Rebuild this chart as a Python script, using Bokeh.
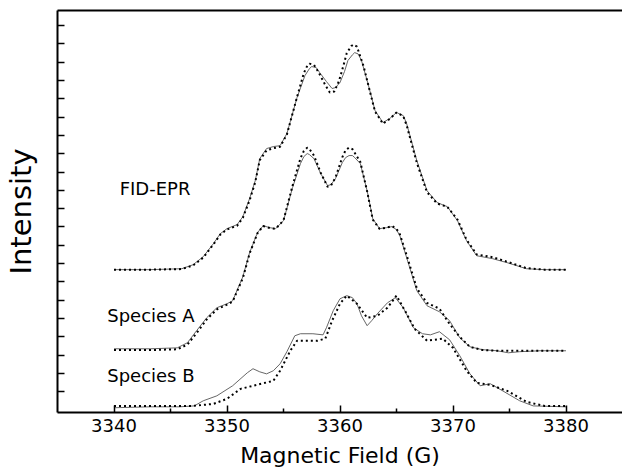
from bokeh.plotting import figure
from bokeh.models import Range1d, FixedTicker, LinearAxis, Label
from bokeh.embed import file_html
from bokeh.resources import INLINE

# ---------------- data (Magnetic field in G, intensity in arbitrary offset units) -------------
fid_x = [3340.0, 3343.2, 3346.0, 3347.0, 3347.9, 3348.8, 3349.4, 3350.0, 3350.9, 3351.4, 3352.0,
         3352.5, 3352.9, 3353.5, 3354.1, 3354.7, 3355.3, 3356.2, 3356.9, 3357.3, 3357.5, 3357.9,
         3358.2, 3358.8, 3359.3, 3359.6, 3360.0, 3360.4, 3360.7, 3361.1, 3361.3, 3361.6, 3361.9,
         3362.1, 3362.4, 3363.1, 3363.8, 3364.4, 3365.0, 3365.6, 3365.9, 3366.8, 3367.7, 3368.6,
         3369.5, 3370.4, 3371.2, 3372.1, 3373.5, 3374.8, 3376.5, 3378.1, 3380.0]
fid_exp = [6.67, 6.67, 6.72, 6.94, 7.38, 8.09, 8.63, 8.91, 9.13, 9.56, 10.55,
           11.53, 12.73, 13.28, 13.39, 13.44, 14.10, 16.07, 17.27, 17.65, 17.76, 17.70,
           17.43, 16.94, 16.56, 16.61, 16.89, 17.49, 18.09, 18.40, 18.52, 18.45, 18.09,
           17.65, 17.00, 15.36, 14.70, 14.92, 15.25, 15.08, 14.64, 12.62, 10.98, 10.33,
           10.11, 9.34, 8.25, 7.43, 7.27, 7.05, 6.72, 6.67, 6.67]
fid_sim_x = [3340.0, 3343.2, 3346.0, 3347.0, 3347.9, 3348.8, 3349.4, 3350.0, 3350.9, 3351.4, 3352.0,
             3352.5, 3352.9, 3353.5, 3354.1, 3354.7, 3355.3, 3356.2, 3356.8, 3357.1, 3357.3, 3357.7,
             3358.1, 3358.7, 3359.1, 3359.5, 3359.9, 3360.3, 3360.6, 3361.0, 3361.2, 3361.5, 3361.8,
             3362.1, 3362.4, 3363.1, 3363.8, 3364.4, 3365.0, 3365.6, 3365.9, 3366.8, 3367.7, 3368.6,
             3369.5, 3370.4, 3371.2, 3372.1, 3373.5, 3374.8, 3376.5, 3378.1, 3380.0]
fid_sim = [6.67, 6.67, 6.70, 6.90, 7.33, 8.05, 8.58, 8.86, 9.07, 9.50, 10.45,
           11.45, 12.65, 13.18, 13.30, 13.38, 14.05, 16.10, 17.40, 17.80, 17.92, 17.85,
           17.45, 16.75, 16.34, 16.40, 16.95, 17.80, 18.50, 18.88, 18.96, 18.85, 18.30,
           17.75, 17.00, 15.30, 14.64, 14.90, 15.25, 15.05, 14.55, 12.50, 10.90, 10.28,
           10.10, 9.40, 8.30, 7.50, 7.35, 7.10, 6.75, 6.67, 6.67]

a_x = [3340.0, 3343.2, 3345.6, 3346.5, 3347.3, 3348.2, 3349.1, 3350.0, 3350.5, 3351.4, 3352.0,
       3352.7, 3353.2, 3353.8, 3354.3, 3355.0, 3355.8, 3356.5, 3356.8, 3357.1, 3357.3, 3357.7,
       3358.3, 3358.9, 3359.2, 3359.6, 3360.2, 3360.5, 3360.8, 3361.1, 3361.3, 3361.8, 3362.4,
       3362.9, 3363.5, 3364.1, 3364.6, 3365.0, 3365.3, 3365.9, 3366.8, 3367.7, 3368.8, 3369.7,
       3370.6, 3371.5, 3372.6, 3373.9, 3374.9, 3375.9, 3377.7, 3380.0]
a_exp = [2.35, 2.35, 2.40, 2.68, 3.33, 4.04, 4.59, 4.81, 4.97, 6.28, 7.60,
         8.69, 9.07, 8.96, 8.91, 9.34, 11.15, 12.46, 12.84, 13.01, 12.95, 12.73,
         11.91, 11.26, 11.31, 11.64, 12.51, 12.79, 12.90, 12.90, 12.79, 12.46, 10.98,
         9.45, 8.91, 8.96, 9.02, 8.85, 8.52, 7.32, 5.52, 4.70, 4.37, 3.88,
         2.95, 2.46, 2.30, 2.24, 2.13, 2.19, 2.24, 2.24]
a_sim = [2.28, 2.28, 2.32, 2.58, 3.20, 3.95, 4.50, 4.76, 4.93, 6.20, 7.55,
         8.66, 9.05, 8.94, 8.90, 9.36, 11.25, 12.75, 13.15, 13.33, 13.25, 12.90,
         11.95, 11.20, 11.26, 11.70, 12.80, 13.20, 13.33, 13.25, 13.05, 12.55, 10.95,
         9.40, 8.90, 8.96, 9.05, 8.90, 8.60, 7.45, 5.65, 4.85, 4.54, 3.70,
         3.00, 2.45, 2.28, 2.24, 2.24, 2.24, 2.24, 2.24]

b_x = [3340.0, 3343.2, 3345.8, 3347.1, 3347.9, 3349.1, 3350.5, 3351.8, 3352.3, 3352.9, 3353.5,
       3354.1, 3354.7, 3355.3, 3356.0, 3356.5, 3357.6, 3358.5, 3358.8, 3359.4, 3360.0, 3360.6,
       3361.1, 3361.5, 3361.9, 3362.4, 3362.8, 3363.3, 3364.2, 3364.9, 3365.6, 3366.5, 3367.3,
       3368.0, 3368.8, 3369.7, 3370.6, 3371.5, 3372.4, 3373.3, 3374.4, 3375.9, 3377.1, 3380.0]
b_exp = [-0.87, -0.82, -0.82, -0.77, -0.49, -0.22, 0.33, 1.04, 1.26, 1.09, 0.98,
         1.15, 1.53, 2.19, 3.06, 3.17, 3.17, 3.11, 3.50, 4.43, 5.08, 5.25,
         5.14, 4.81, 4.15, 3.61, 3.88, 4.26, 4.86, 5.14, 4.59, 3.50, 3.17,
         3.11, 3.28, 2.84, 1.97, 0.98, 0.33, 0.44, 0.05, -0.49, -0.77, -0.82]
b_sim_x = [3340.0, 3343.2, 3347.0, 3348.8, 3350.0, 3351.2, 3352.3, 3354.1, 3354.7, 3355.6, 3356.2,
           3358.0, 3358.7, 3359.3, 3360.0, 3360.6, 3361.5, 3362.4, 3363.3, 3364.2, 3365.0, 3365.9,
           3366.6, 3367.7, 3369.1, 3370.0, 3371.2, 3372.1, 3373.3, 3374.8, 3376.5, 3378.1, 3380.0]
b_sim = [-0.77, -0.77, -0.77, -0.66, -0.38, 0.16, 0.33, 0.60, 1.15, 2.24, 2.79,
         2.79, 2.90, 3.88, 4.81, 5.25, 4.81, 4.04, 4.15, 4.59, 5.25, 4.26,
         3.44, 2.79, 2.90, 2.40, 1.15, 0.49, 0.38, 0.05, -0.55, -0.77, -0.77]

x_major = [3340, 3350, 3360, 3370, 3380]
x_minor = [3345, 3355, 3365, 3375]
y_ticks = list(range(0, 21))

labels = ["FID-EPR", "Species A", "Species B"]
label_x = [3340.5, 3339.4, 3339.4]
label_y = [11.1, 4.15, 0.87]

FONT = "DejaVu Sans"

p = figure(width=622, height=472, output_backend="svg", toolbar_location=None,
           x_range=Range1d(3335, 3385), y_range=Range1d(-1.13, 20.82),
           min_border_left=57, min_border_right=0, min_border_top=10, min_border_bottom=60,
           background_fill_color="white", border_fill_color="white")
p.xgrid.visible = False
p.ygrid.visible = False
p.outline_line_color = None

# x axis
xa = p.xaxis[0]
xa.ticker = FixedTicker(ticks=x_major, minor_ticks=x_minor)
xa.major_tick_in = 7
xa.major_tick_out = 0
xa.minor_tick_in = 4
xa.minor_tick_out = 0
xa.axis_line_width = 2
xa.major_tick_line_width = 1.5
xa.minor_tick_line_width = 1.5
xa.major_label_text_font = FONT
xa.major_label_text_font_size = "18px"
xa.major_label_text_color = "black"
xa.major_label_standoff = 6
xa.axis_label = "Magnetic Field (G)"
xa.axis_label_text_font = FONT
xa.axis_label_text_font_size = "22px"
xa.axis_label_text_font_style = "normal"
xa.axis_label_text_color = "black"
xa.axis_label_standoff = 8

# y axis (ticks without numbers)
ya = p.yaxis[0]
ya.ticker = FixedTicker(ticks=y_ticks, minor_ticks=[])
ya.major_tick_in = 7
ya.major_tick_out = 0
ya.axis_line_width = 2
ya.major_tick_line_width = 1.5
ya.major_label_overrides = {t: "" for t in y_ticks}
ya.major_label_standoff = 0
ya.axis_label = "Intensity"
ya.axis_label_text_font = FONT
ya.axis_label_text_font_size = "29px"
ya.axis_label_text_font_style = "normal"
ya.axis_label_text_color = "black"
ya.axis_label_standoff = 20

# top frame line
top = LinearAxis(ticker=FixedTicker(ticks=[], minor_ticks=[]),
                 major_tick_in=0, major_tick_out=0, minor_tick_in=0, minor_tick_out=0,
                 major_label_standoff=0, axis_line_width=2)
p.add_layout(top, "above")

exp_color = "#555555"
sim_color = "black"
for xs, ys in [(fid_x, fid_exp), (a_x, a_exp), (b_x, b_exp)]:
    p.line(xs, ys, line_color=exp_color, line_width=0.9)
for xs, ys in [(fid_sim_x, fid_sim), (a_x, a_sim), (b_sim_x, b_sim)]:
    p.line(xs, ys, line_color=sim_color, line_width=2, line_dash="2 3")

for t, lx, ly in zip(labels, label_x, label_y):
    p.add_layout(Label(x=lx, y=ly, text=t, text_font=FONT, text_font_size="18px",
                       text_color="black", text_baseline="middle", text_align="left"))

open("out.html", "w").write(file_html(p, INLINE))
